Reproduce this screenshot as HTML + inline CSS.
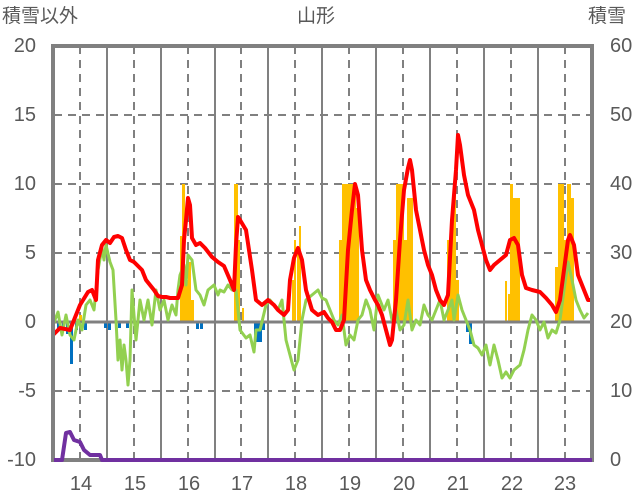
<!DOCTYPE html>
<html><head><meta charset="utf-8"><style>
body{margin:0;background:#fff;}
svg{display:block;font-family:"Liberation Sans","Noto Sans CJK JP",sans-serif;}
</style></head><body>
<svg width="636" height="501" viewBox="0 0 636 501">
<g stroke="#808080" stroke-width="2" stroke-dasharray="8,6" fill="none">
<line x1="54" y1="115" x2="592" y2="115"/>
<line x1="54" y1="184" x2="592" y2="184"/>
<line x1="54" y1="253" x2="592" y2="253"/>
<line x1="54" y1="391" x2="592" y2="391"/>
<line x1="80" y1="46" x2="80" y2="460"/><line x1="134" y1="46" x2="134" y2="460"/>
<line x1="188" y1="46" x2="188" y2="460"/><line x1="241" y1="46" x2="241" y2="460"/>
<line x1="295" y1="46" x2="295" y2="460"/><line x1="349" y1="46" x2="349" y2="460"/>
<line x1="403" y1="46" x2="403" y2="460"/><line x1="457" y1="46" x2="457" y2="460"/>
<line x1="511" y1="46" x2="511" y2="460"/><line x1="565" y1="46" x2="565" y2="460"/>
</g>
<g stroke="#808080" stroke-width="2">
<line x1="107" y1="46" x2="107" y2="460"/><line x1="161" y1="46" x2="161" y2="460"/>
<line x1="215" y1="46" x2="215" y2="460"/><line x1="268" y1="46" x2="268" y2="460"/>
<line x1="322" y1="46" x2="322" y2="460"/><line x1="376" y1="46" x2="376" y2="460"/>
<line x1="430" y1="46" x2="430" y2="460"/><line x1="484" y1="46" x2="484" y2="460"/>
<line x1="538" y1="46" x2="538" y2="460"/>
</g>
<g fill="#FFC000">
<rect x="79" y="315" width="3" height="7"/>
<rect x="180" y="236" width="2" height="86"/><rect x="182" y="184" width="3" height="138"/>
<rect x="185" y="280" width="3" height="42"/><rect x="188" y="262" width="3" height="60"/><rect x="191" y="300" width="3" height="22"/>
<rect x="234" y="184" width="4" height="138"/><rect x="238" y="240" width="2" height="82"/><rect x="242" y="308" width="2" height="14"/>
<rect x="292" y="280" width="2" height="42"/><rect x="294" y="240" width="2" height="82"/><rect x="297" y="253" width="2" height="69"/><rect x="299" y="226" width="2" height="96"/>
<rect x="339" y="240" width="3" height="82"/><rect x="342" y="184" width="14" height="138"/><rect x="356" y="208" width="3" height="114"/>
<rect x="393" y="240" width="3" height="82"/><rect x="396" y="184" width="8" height="138"/><rect x="404" y="240" width="3" height="82"/><rect x="407" y="198" width="2" height="124"/><rect x="409" y="198" width="4" height="124"/>
<rect x="447" y="240" width="3" height="82"/><rect x="450" y="226" width="3" height="96"/><rect x="453" y="184" width="3" height="138"/><rect x="456" y="280" width="3" height="42"/>
<rect x="505" y="281" width="2" height="41"/><rect x="508" y="294" width="2" height="28"/><rect x="510" y="184" width="3" height="138"/><rect x="513" y="198" width="7" height="124"/>
<rect x="555" y="267" width="3" height="55"/><rect x="558" y="184" width="6" height="138"/><rect x="564" y="240" width="3" height="82"/><rect x="567" y="184" width="4" height="138"/><rect x="571" y="198" width="3" height="124"/>
</g>
<g fill="#0070C0">
<rect x="57" y="322" width="3" height="8"/><rect x="62" y="322" width="3" height="7"/><rect x="66" y="322" width="3" height="12"/><rect x="70" y="322" width="3" height="42"/><rect x="75" y="322" width="3" height="8"/><rect x="84" y="322" width="3" height="8"/>
<rect x="104" y="322" width="3" height="6"/><rect x="108" y="322" width="3" height="8"/><rect x="118" y="322" width="3" height="6"/><rect x="126" y="322" width="3" height="6"/>
<rect x="196" y="322" width="3" height="7"/><rect x="200" y="322" width="3" height="7"/>
<rect x="254" y="322" width="4" height="20"/><rect x="258" y="322" width="4" height="20"/><rect x="262" y="322" width="3" height="8"/>
<rect x="466" y="322" width="3" height="10"/><rect x="469" y="322" width="3" height="22"/>
</g>
<line x1="54" y1="322" x2="592" y2="322" stroke="#808080" stroke-width="3"/>
<polyline fill="none" stroke="#92D050" stroke-width="3" stroke-linejoin="round" points="53,325 58,312 62,335 66,315 70,335 74,340 78,320 82,330 86,305 90,300 94,310 98,270 102,248 104,260 106,245 110,262 113,270 116,320 118,360 120,340 122,370 124,345 126,360 128,385 130,360 132,290 136,340 140,300 144,320 148,300 152,325 156,290 160,310 164,300 168,320 172,305 176,315 178,290 180,275 184,265 186,285 188,255 192,260 196,290 200,295 204,305 208,290 214,285 218,295 220,290 224,292 228,285 232,290 236,290 240,330 246,338 250,335 254,352 256,330 260,330 266,305 270,300 274,305 278,310 282,300 286,340 290,355 294,370 298,360 302,320 306,300 312,295 318,290 322,298 326,300 330,310 334,320 338,325 342,315 346,345 350,335 354,340 358,320 362,315 366,300 370,310 374,330 378,295 380,300 384,310 388,300 392,320 396,310 400,330 404,325 408,300 412,330 416,320 420,325 424,305 428,315 432,320 436,310 440,300 444,320 448,310 452,300 454,320 458,295 462,310 466,320 470,330 474,345 478,348 482,355 486,345 490,365 494,345 498,360 502,378 506,372 510,378 514,370 520,365 524,350 528,330 532,315 536,320 540,330 544,322 548,338 552,330 556,333 560,320 564,290 568,262 572,280 576,300 580,310 584,318 588,313"/>
<polyline fill="none" stroke="#FF0000" stroke-width="4" stroke-linejoin="round" points="53,335 60,328 70,330 80,305 88,292 92,290 96,300 98,260 102,245 106,240 110,243 114,237 118,236 122,238 126,250 130,260 134,262 138,266 142,270 146,280 150,285 154,290 158,296 162,297 166,297 170,298 175,298 178,298 182,285 184,240 186,220 188,198 190,205 192,238 196,245 200,243 205,248 212,257 218,262 224,266 230,280 234,290 236,245 238,217 240,220 246,230 252,270 256,300 262,305 268,300 274,305 278,310 284,315 288,310 290,280 294,258 298,248 302,260 306,290 312,310 318,315 324,312 328,318 332,322 336,330 340,330 344,320 348,250 352,210 355,184 358,195 362,250 366,280 370,290 375,300 378,305 382,315 386,330 390,345 392,340 396,300 400,240 404,190 408,168 410,160 412,170 416,210 420,230 424,250 428,265 432,275 436,290 440,300 444,305 448,295 452,220 456,170 458,135 460,145 464,175 468,195 474,210 478,230 482,245 486,260 490,270 494,265 500,260 506,255 510,240 514,238 518,245 522,275 526,288 532,290 540,292 546,298 552,305 556,312 560,300 564,270 568,240 570,235 574,245 578,275 584,290 588,300 592,300"/>
<rect x="53" y="46" width="539" height="414" fill="none" stroke="#808080" stroke-width="4"/>
<polyline fill="none" stroke="#7030A0" stroke-width="4" stroke-linejoin="round" points="54,460 62,460 66,433 70,432 74,440 80,442 84,450 90,455 100,455 102,460 592,460"/>
<g fill="#595959" font-size="20">
<text x="2" y="22" font-size="19">積雪以外</text>
<text x="297" y="22" font-size="19">山形</text>
<text x="588" y="22" font-size="19">積雪</text>
<g text-anchor="end">
<text x="36" y="52">20</text><text x="36" y="121">15</text><text x="36" y="190">10</text><text x="36" y="259">5</text><text x="36" y="328">0</text><text x="36" y="397">-5</text><text x="36" y="466">-10</text>
</g>
<g>
<text x="610" y="52">60</text><text x="610" y="121">50</text><text x="610" y="190">40</text><text x="610" y="259">30</text><text x="610" y="328">20</text><text x="610" y="397">10</text><text x="610" y="466">0</text>
</g>
<g text-anchor="middle">
<text x="81" y="490">14</text><text x="135" y="490">15</text><text x="189" y="490">16</text><text x="242" y="490">17</text><text x="296" y="490">18</text><text x="350" y="490">19</text><text x="404" y="490">20</text><text x="458" y="490">21</text><text x="512" y="490">22</text><text x="565" y="490">23</text>
</g>
</g>
</svg>
</body></html>
